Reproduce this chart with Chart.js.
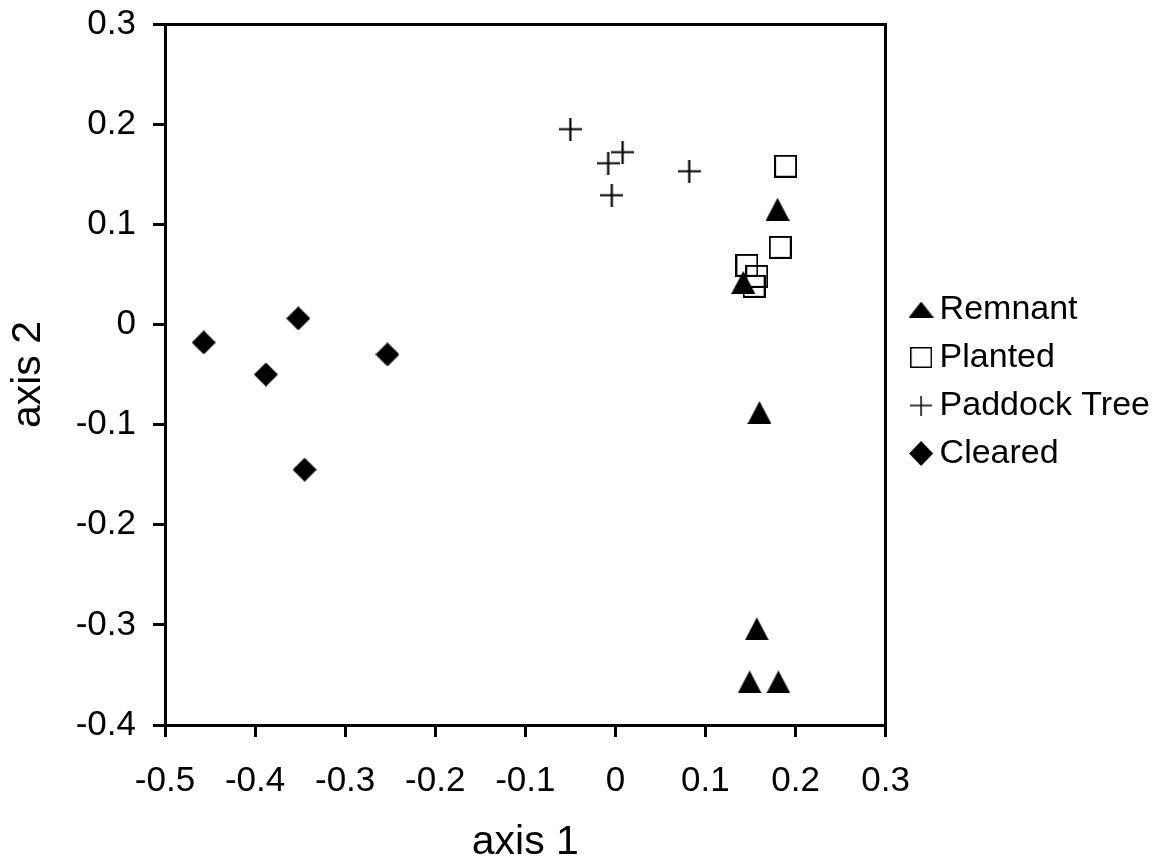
<!DOCTYPE html>
<html>
<head>
<meta charset="utf-8">
<script src="https://cdn.jsdelivr.net/npm/chart.js@4"></script>
<style>
  html, body { margin: 0; padding: 0; background: #ffffff; }
</style>
</head>
<body>
<canvas id="myChart" width="1172" height="863"></canvas>
<script>
// series
const seriesNames = ['Remnant', 'Planted', 'Paddock Tree', 'Cleared'];

const remnantX = [0.180, 0.142, 0.160, 0.157, 0.149, 0.181];
const remnantY = [0.115, 0.042, -0.088, -0.304, -0.357, -0.357];

const plantedX = [0.189, 0.183, 0.146, 0.157, 0.154];
const plantedY = [0.158, 0.077, 0.059, 0.048, 0.038];

const paddockX = [-0.050, -0.008, 0.008, -0.004, 0.082];
const paddockY = [0.195, 0.161, 0.172, 0.129, 0.153];

const clearedX = [-0.457, -0.352, -0.388, -0.253, -0.345];
const clearedY = [-0.018, 0.006, -0.050, -0.030, -0.145];

// axis ticks
const xTickValues = [-0.5, -0.4, -0.3, -0.2, -0.1, 0, 0.1, 0.2, 0.3];
const xTickLabels = ['-0.5', '-0.4', '-0.3', '-0.2', '-0.1', '0', '0.1', '0.2', '0.3'];
const yTickValues = [-0.4, -0.3, -0.2, -0.1, 0, 0.1, 0.2, 0.3];
const yTickLabels = ['-0.4', '-0.3', '-0.2', '-0.1', '0', '0.1', '0.2', '0.3'];

const toPoints = (xs, ys) => xs.map((x, i) => ({ x: x, y: ys[i] }));

// little canvases used as marker images
const makeMarker = (kind, w, h, lw) => {
    const c = document.createElement('canvas');
    c.width = w;
    c.height = h;
    const g = c.getContext('2d');
    g.fillStyle = '#000';
    g.strokeStyle = '#000';
    g.lineWidth = lw || 2;
    g.beginPath();
    if (kind === 'triangle') {
        g.moveTo(0, h);
        g.lineTo(w / 2, 0);
        g.lineTo(w, h);
        g.closePath();
        g.fill();
    } else if (kind === 'square') {
        g.strokeRect(g.lineWidth / 2, g.lineWidth / 2, w - g.lineWidth, h - g.lineWidth);
    } else if (kind === 'plus') {
        g.moveTo(0, h / 2);
        g.lineTo(w, h / 2);
        g.moveTo(w / 2, 0);
        g.lineTo(w / 2, h);
        g.stroke();
    } else if (kind === 'diamond') {
        g.moveTo(w / 2, 0);
        g.lineTo(w, h / 2);
        g.lineTo(w / 2, h);
        g.lineTo(0, h / 2);
        g.closePath();
        g.fill();
    }
    return c;
};

const plotMarkers = [
    makeMarker('triangle', 24, 23),
    makeMarker('square', 23, 23, 2),
    makeMarker('plus', 23, 23, 2.2),
    makeMarker('diamond', 24, 24)
];
const legendMarkers = [
    makeMarker('triangle', 25, 16),
    makeMarker('square', 22, 21, 1.5),
    makeMarker('plus', 22, 20, 1.5),
    makeMarker('diamond', 24, 25)
];

Chart.defaults.font.family = "'Liberation Sans', Arial, sans-serif";
Chart.defaults.color = '#000';

const seriesData = [
    toPoints(remnantX, remnantY),
    toPoints(plantedX, plantedY),
    toPoints(paddockX, paddockY),
    toPoints(clearedX, clearedY)
];

const axisLine = { display: true, color: '#000', width: 3 };
const tickGrid = {
    display: true,
    drawOnChartArea: false,
    drawTicks: true,
    tickLength: 12,
    color: '#000',
    lineWidth: 3
};

// the tick labels should not push the plot frame around
const noEdgePadding = (s) => {
    s.paddingTop = 0;
    s.paddingBottom = 0;
    s.paddingLeft = 0;
    s.paddingRight = 0;
};

// nudge the legend down a little, the way it sits in the picture
const legendNudge = {
    id: 'legendNudge',
    afterLayout: (c) => {
        c.legend.top += 7;
        c.legend.bottom += 7;
    }
};

var ctx = document.getElementById('myChart').getContext('2d');

var chart = new Chart(ctx, {
    type: 'scatter',
    data: {
        datasets: seriesNames.map((name, i) => ({
            label: name,
            data: seriesData[i],
            pointStyle: plotMarkers[i],
            pointRadius: 10,
            pointHoverRadius: 10,
            showLine: false
        }))
    },
    options: {
        responsive: false,
        animation: false,
        layout: { autoPadding: false, padding: { top: 24, right: 12, bottom: 0, left: 0 } },
        plugins: {
            tooltip: { enabled: false },
            legend: {
                position: 'right',
                fullSize: false,
                maxWidth: 400,
                labels: {
                    usePointStyle: true,
                    pointStyleWidth: 3,
                    padding: 14,
                    color: '#000',
                    font: { size: 34 },
                    generateLabels: (c) => {
                        const items = Chart.defaults.plugins.legend.labels.generateLabels(c);
                        items.forEach((it, i) => { it.pointStyle = legendMarkers[i]; });
                        return items;
                    }
                }
            }
        },
        scales: {
            x: {
                type: 'linear',
                position: 'bottom',
                min: -0.5,
                max: 0.3,
                afterBuildTicks: (s) => { s.ticks = xTickValues.map(v => ({ value: v })); },
                afterFit: (s) => { s.height = 138; noEdgePadding(s); },
                ticks: {
                    font: { size: 35 },
                    padding: 23,
                    maxRotation: 0,
                    callback: (v, i) => xTickLabels[i]
                },
                grid: tickGrid,
                border: axisLine,
                title: {
                    display: true,
                    text: 'axis 1',
                    font: { size: 41, lineHeight: 1 },
                    padding: { top: 0, bottom: 0 }
                }
            },
            y: {
                type: 'linear',
                position: 'left',
                min: -0.4,
                max: 0.3,
                afterBuildTicks: (s) => { s.ticks = yTickValues.map(v => ({ value: v })); },
                afterFit: (s) => { s.width = 165; noEdgePadding(s); },
                ticks: {
                    font: { size: 35 },
                    padding: 17,
                    callback: (v, i) => yTickLabels[i]
                },
                grid: tickGrid,
                border: axisLine,
                title: {
                    display: true,
                    text: 'axis 2',
                    font: { size: 41, lineHeight: 1 },
                    padding: { top: 8, bottom: 0 }
                }
            },
            xTop: {
                type: 'linear',
                position: 'top',
                min: -0.5,
                max: 0.3,
                ticks: { display: false },
                grid: { display: false },
                border: axisLine,
                afterFit: (s) => { s.height = 0; noEdgePadding(s); }
            },
            yRight: {
                type: 'linear',
                position: 'right',
                min: -0.4,
                max: 0.3,
                ticks: { display: false },
                grid: { display: false },
                border: axisLine,
                afterFit: (s) => { s.width = 20; noEdgePadding(s); }
            }
        }
    },
    plugins: [legendNudge]
});
</script>
</body>
</html>
